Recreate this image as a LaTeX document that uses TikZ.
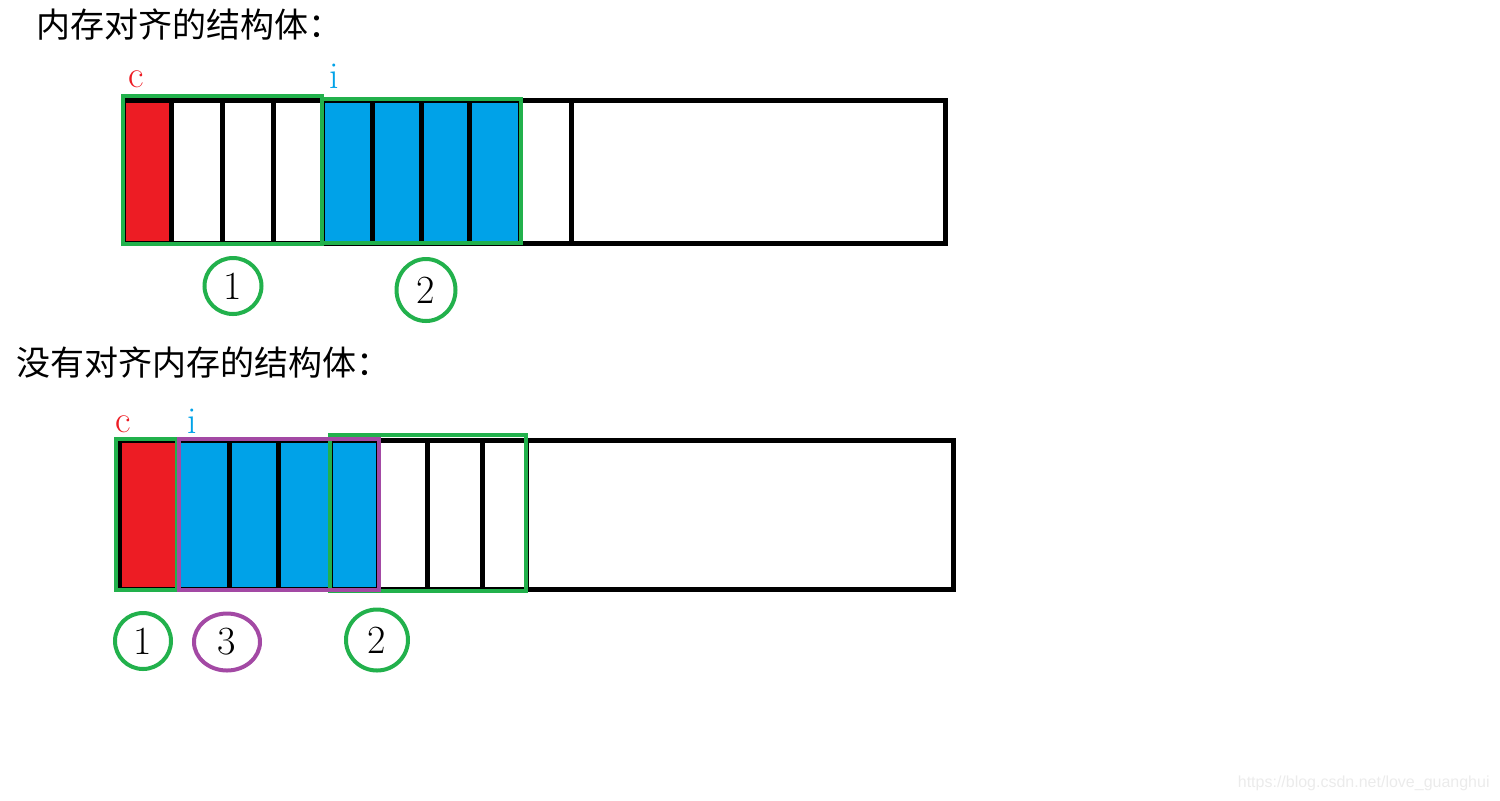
\documentclass[tikz,border=0pt]{standalone}
\usepackage{fontspec}
\newfontfamily\cjk{Noto Sans CJK SC}
\newfontfamily\wmfont{Liberation Sans}
\usetikzlibrary{shapes.geometric}
\definecolor{paintred}{HTML}{ED1C24}
\definecolor{paintblue}{HTML}{00A2E8}
\definecolor{paintgreen}{HTML}{22B14C}
\definecolor{paintpurple}{HTML}{A349A4}
\begin{document}
\begin{tikzpicture}[x=0.5pt, y=-0.5pt,
	cell/.style={draw=black, line width=2.5pt},
	group/.style={line width=2.3pt},
	badge/.style={ellipse, draw, line width=2pt, inner sep=0pt, font=\fontsize{20}{20}\selectfont},
	title/.style={anchor=west, inner sep=0pt, font=\cjk\fontsize{17}{17}\selectfont},
	var/.style={anchor=base, inner sep=0pt, font=\fontsize{19}{19}\selectfont}]
	\useasboundingbox (0,0) rectangle (1500,800);

	% aligned struct
	\node[title] (title-aligned) at (36,25) {内存对齐的结构体：};

	\fill[paintred] (123,100) rectangle (171,243);
	\fill[paintblue] (322,100) rectangle (520,243);
	\draw[cell] (123,100) rectangle (945,243);
	\foreach \x in {171,222,273,322,372,421,469,520,571}
		\draw[cell] (\x,100) -- (\x,243);
	\draw[group, paintgreen] (123,96) rectangle (322,244);
	\draw[group, paintgreen] (322,99) rectangle (521,243);

	\node[var, paintred] (c-aligned) at (136,87) {c};
	\node[var, paintblue] (i-aligned) at (334,88) {i};

	\node[badge, paintgreen, minimum width=28.5pt, minimum height=28pt] (one-aligned) at (233,286) {\color{black}1};
	\node[badge, paintgreen, minimum width=29.5pt, minimum height=31pt] (two-aligned) at (426,290) {\color{black}2};

	% packed struct
	\node[title] (title-packed) at (16,363) {没有对齐内存的结构体：};

	\fill[paintred] (119,440) rectangle (177,589);
	\fill[paintblue] (177,440) rectangle (378,589);
	\draw[cell] (119,440) rectangle (953,589);
	\foreach \x in {177,229,278,330,378,427,482,526}
		\draw[cell] (\x,440) -- (\x,589);
	\draw[group, paintgreen] (330,435) rectangle (526,591);
	\draw[group, paintgreen] (116,439) rectangle (177,590);
	\draw[group, paintpurple] (179,439) rectangle (379,590);

	\node[var, paintred] (c-packed) at (123,432) {c};
	\node[var, paintblue] (i-packed) at (192,433) {i};

	\node[badge, paintgreen, minimum width=28pt, minimum height=28pt] (one-packed) at (143,641) {\color{black}1};
	\node[badge, paintpurple, minimum width=33pt, minimum height=28.5pt] (three-packed) at (227,642) {\color{black}3};
	\node[badge, paintgreen, minimum width=31pt, minimum height=30.5pt] (two-packed) at (377,640) {\color{black}2};

	\node[anchor=east, inner sep=0pt, text=black!8, font=\wmfont\fontsize{8}{8}\selectfont] (watermark) at (1490,783) {https://blog.csdn.net/love\_guanghui};
\end{tikzpicture}
\end{document}
